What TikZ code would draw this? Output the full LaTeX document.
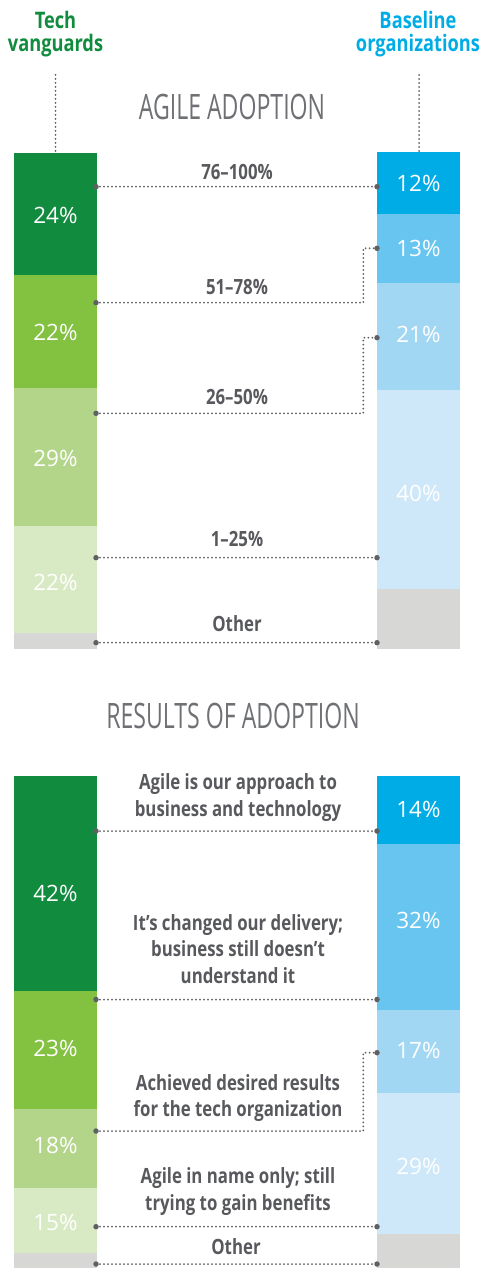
\documentclass[tikz,border=0pt]{standalone}
\usepackage{fontspec}
\setmainfont{Open Sans}
\newfontfamily\cnd[FakeStretch=0.8]{Open Sans}
\newfontfamily\hdf[FakeStretch=0.66]{Open Sans}
\definecolor{gA}{RGB}{17,139,62}
\definecolor{gB}{RGB}{131,193,65}
\definecolor{gC}{RGB}{179,213,138}
\definecolor{gD}{RGB}{216,234,195}
\definecolor{bA}{RGB}{0,172,230}
\definecolor{bB}{RGB}{104,197,239}
\definecolor{bC}{RGB}{162,215,243}
\definecolor{bD}{RGB}{206,232,249}
\definecolor{gr}{RGB}{215,215,214}
\definecolor{txt}{RGB}{88,89,93}
\definecolor{hd}{RGB}{110,112,116}
\definecolor{dotc}{RGB}{95,96,100}
\tikzset{
  pct/.style={text=white, font=\fontsize{22.5}{26}\selectfont, inner sep=0pt},
  lbl/.style={text=txt, font=\cnd\bfseries\fontsize{21}{26.5}\selectfont, align=center, inner sep=0pt, anchor=base},
  grp/.style={font=\cnd\bfseries\fontsize{22.8}{23.5}\selectfont, align=center, inner sep=0pt, anchor=base},
  ttl/.style={text=hd, font=\hdf\fontsize{35}{40}\selectfont, inner sep=0pt, anchor=base},
  conn/.style={draw=dotc, line width=2pt, dash pattern=on 0pt off 4pt, line cap=round},
  dotn/.style={circle, fill=dotc, inner sep=0pt, minimum size=5.5pt},
}
\begin{document}
\begin{tikzpicture}[x=1pt,y=-1pt]
\useasboundingbox (0,0) rectangle (482,1268);
% group headers (base = last line baseline)
\node[grp, text=gA] (hL) at (55.5,51.7) {Tech\\vanguards};
\node[grp, text=bA] (hR) at (418,51.7) {Baseline\\organizations};
\coordinate (vL1) at (55.5,75); \coordinate (vL2) at (55.5,151);
\coordinate (vR1) at (419,75); \coordinate (vR2) at (419,151);
\draw[conn] (vL1) -- (vL2);
\draw[conn] (vR1) -- (vR2);
% titles
\node[ttl] (t1) at (232,120) {AGILE ADOPTION};
\node[ttl] (t2) at (233,728.3) {RESULTS OF ADOPTION};
% ---------- top bars
\fill[gA] (14,153) rectangle (97,275);
\fill[gB] (14,275) rectangle (97,388);
\fill[gC] (14,388) rectangle (97,526);
\fill[gD] (14,526) rectangle (97,633);
\fill[gr] (14,633) rectangle (97,649);
\fill[bA] (377,152) rectangle (460,214);
\fill[bB] (377,214) rectangle (460,283);
\fill[bC] (377,283) rectangle (460,390);
\fill[bD] (377,390) rectangle (460,589);
\fill[gr] (377,589) rectangle (460,649);
\node[pct] (p1) at (55.5,215) {24\%};
\node[pct] (p2) at (55.5,332.7) {22\%};
\node[pct] (p3) at (55.5,458) {29\%};
\node[pct] (p4) at (55.5,582.7) {22\%};
\node[pct] (q1) at (418.5,183.3) {12\%};
\node[pct] (q2) at (418.5,248.3) {13\%};
\node[pct] (q3) at (418.5,334.3) {21\%};
\node[pct] (q4) at (418.5,493.3) {40\%};
% labels
\node[lbl] (l1) at (237,179.3) {76–100\%};
\node[lbl] (l2) at (237,294) {51–78\%};
\node[lbl] (l3) at (237,404) {26–50\%};
\node[lbl] (l4) at (237,546.7) {1–25\%};
\node[lbl] (l5) at (237,631.7) {Other};
% connectors
\node[dotn] (a1L) at (96,186.7) {}; \node[dotn] (a1R) at (377,186.7) {};
\node[dotn] (a2L) at (96,302.7) {}; \node[dotn] (a2R) at (377,248.3) {};
\node[dotn] (a3L) at (96,413.3) {}; \node[dotn] (a3R) at (377,337.7) {};
\node[dotn] (a4L) at (96,557.7) {}; \node[dotn] (a4R) at (377,557.7) {};
\node[dotn] (a5L) at (96,642.7) {}; \node[dotn] (a5R) at (377,642.7) {};
\coordinate (a2K) at (363.3,302.7);
\coordinate (a3K) at (363.3,413.3);
\draw[conn] (a1L.center) -- (a1R.center);
\draw[conn] (a2L.center) -- (a2K) |- (a2R.center);
\draw[conn] (a3L.center) -- (a3K) |- (a3R.center);
\draw[conn] (a4L.center) -- (a4R.center);
\draw[conn] (a5L.center) -- (a5R.center);
% ---------- bottom bars
\fill[gA] (14,776) rectangle (97,991);
\fill[gB] (14,991) rectangle (97,1109);
\fill[gC] (14,1109) rectangle (97,1188);
\fill[gD] (14,1188) rectangle (97,1253);
\fill[gr] (14,1253) rectangle (97,1268);
\fill[bA] (377,776) rectangle (460,844);
\fill[bB] (377,844) rectangle (460,1010);
\fill[bC] (377,1010) rectangle (460,1093);
\fill[bD] (377,1093) rectangle (460,1234);
\fill[gr] (377,1234) rectangle (460,1268);
\node[pct] (r1) at (55.5,893.3) {42\%};
\node[pct] (r2) at (55.5,1048.3) {23\%};
\node[pct] (r3) at (55.5,1145) {18\%};
\node[pct] (r4) at (55.5,1222.7) {15\%};
\node[pct] (s1) at (418.5,809.3) {14\%};
\node[pct] (s2) at (418.5,920.7) {32\%};
\node[pct] (s3) at (418.5,1050) {17\%};
\node[pct] (s4) at (418.5,1166) {29\%};
% multi-line labels: base anchor = baseline of last line
\node[lbl] (m1) at (238,816) {Agile is our approach to\\business and technology};
\node[lbl] (m2) at (238,983.3) {It’s changed our delivery;\\business still doesn’t\\understand it};
\node[lbl] (m3) at (238,1116.7) {Achieved desired results\\for the tech organization};
\node[lbl] (m4) at (238,1210) {Agile in name only; still\\trying to gain benefits};
\node[lbl] (m5) at (236,1254) {Other};
\node[dotn] (b1L) at (96,831) {}; \node[dotn] (b1R) at (377,831) {};
\node[dotn] (b2L) at (96,999.5) {}; \node[dotn] (b2R) at (377,999.5) {};
\node[dotn] (b3L) at (96,1131) {}; \node[dotn] (b3R) at (377,1052.7) {};
\node[dotn] (b4L) at (96,1226.7) {}; \node[dotn] (b4R) at (377,1226.7) {};
\node[dotn] (b5L) at (96,1264) {}; \node[dotn] (b5R) at (377,1264) {};
\coordinate (b3K) at (363.3,1131);
\draw[conn] (b1L.center) -- (b1R.center);
\draw[conn] (b2L.center) -- (b2R.center);
\draw[conn] (b3L.center) -- (b3K) |- (b3R.center);
\draw[conn] (b4L.center) -- (b4R.center);
\draw[conn] (b5L.center) -- (b5R.center);
\end{tikzpicture}
\end{document}
